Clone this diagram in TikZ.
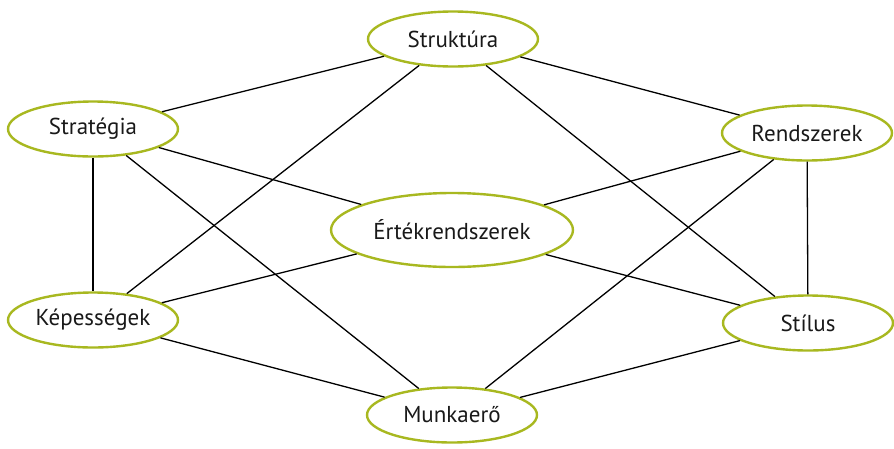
\documentclass[tikz,border=0pt]{standalone}
\usepackage{fontspec}
\setmainfont{PT Sans}
\usepackage{tikz}
\usetikzlibrary{shapes.geometric}

\definecolor{leaf}{RGB}{168,184,32}
\tikzset{
    elem/.style = {ellipse, draw=leaf, line width=2.4pt, fill=white, inner sep=0pt,
        minimum width=170pt, minimum height=55pt, text=black!90, font=\fontsize{23}{26}\selectfont},
    link/.style = {line width=1.3pt, black}
}

\begin{document}
\begin{tikzpicture} [x=1pt, y=-1pt]
        \useasboundingbox (0, 0) rectangle (894, 448);
        \node[elem] (strukt) at (453, 39) {Struktúra};
        \node[elem] (strat) at (93, 129) {Stratégia};
        \node[elem] (rendsz) at (807, 133) {Rendszerek};
        \node[elem, minimum width=242pt, minimum height=74pt] (ertek) at (452, 230) {Értékrendszerek};
        \node[elem] (kepes) at (93, 320) {Képességek};
        \node[elem] (stilus) at (808, 323) {Stílus};
        \node[elem] (munka) at (452, 415) {Munkaerő};
        \draw[link] (strat) -- (strukt);
        \draw[link] (strukt) -- (rendsz);
        \draw[link] (strukt) -- (kepes);
        \draw[link] (strukt) -- (stilus);
        \draw[link] (strat) -- (kepes);
        \draw[link] (strat) -- (ertek);
        \draw[link] (strat) -- (munka);
        \draw[link] (rendsz) -- (ertek);
        \draw[link] (rendsz) -- (stilus);
        \draw[link] (rendsz) -- (munka);
        \draw[link] (ertek) -- (kepes);
        \draw[link] (ertek) -- (stilus);
        \draw[link] (kepes) -- (munka);
        \draw[link] (stilus) -- (munka);
    \end{tikzpicture}
\end{document}
